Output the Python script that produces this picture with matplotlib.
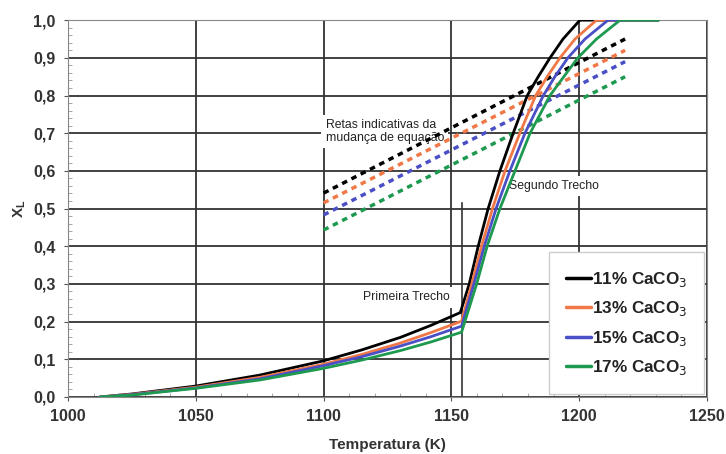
import numpy as np
import matplotlib.pyplot as plt
from matplotlib.ticker import MultipleLocator, FuncFormatter

plt.rcParams['font.family'] = ['Liberation Sans', 'DejaVu Sans']

# curvas X_L x T
labels = ['11% CaCO$_3$', '13% CaCO$_3$', '15% CaCO$_3$', '17% CaCO$_3$']
colors = ['#000000', '#f07848', '#4a4fc6', '#1e9a50']

t_11 = [1012.5, 1025, 1050, 1075, 1100, 1115, 1130, 1142, 1153.5,
        1157, 1160.5, 1164.4, 1169, 1174.2, 1179.7, 1184, 1188.6, 1193.7, 1200.3, 1231]
x_11 = [0.0, 0.008, 0.029, 0.058, 0.096, 0.125, 0.158, 0.190, 0.224,
        0.30, 0.40, 0.50, 0.60, 0.70, 0.80, 0.85, 0.90, 0.95, 1.0, 1.0]
t_13 = [1012.5, 1025, 1050, 1075, 1100, 1115, 1130, 1142, 1154,
        1158, 1161.8, 1166.1, 1171, 1176.8, 1183, 1187.5, 1192.5, 1198.4, 1206.8, 1231]
x_13 = [0.0, 0.007, 0.026, 0.052, 0.087, 0.113, 0.143, 0.171, 0.201,
        0.30, 0.40, 0.50, 0.60, 0.70, 0.80, 0.85, 0.90, 0.95, 1.0, 1.0]
t_15 = [1012.5, 1025, 1050, 1075, 1100, 1115, 1130, 1142, 1154,
        1158.8, 1162.9, 1167.5, 1172.9, 1178.8, 1186, 1190.5, 1195.6, 1202.3, 1211.3, 1231]
x_15 = [0.0, 0.006, 0.024, 0.048, 0.083, 0.107, 0.135, 0.160, 0.188,
        0.30, 0.40, 0.50, 0.60, 0.70, 0.80, 0.85, 0.90, 0.95, 1.0, 1.0]
t_17 = [1012.5, 1025, 1050, 1075, 1100, 1115, 1130, 1142, 1154,
        1159.9, 1164, 1169, 1174.9, 1180.8, 1188.6, 1194, 1199.5, 1206.8, 1216, 1231]
x_17 = [0.0, 0.005, 0.023, 0.045, 0.076, 0.098, 0.123, 0.146, 0.172,
        0.30, 0.40, 0.50, 0.60, 0.70, 0.80, 0.85, 0.90, 0.95, 1.0, 1.0]
temps = [t_11, t_13, t_15, t_17]
xls = [x_11, x_13, x_15, x_17]

# retas indicativas da mudanca de equacao
t_reta = [1100, 1218]
x_reta = [[0.541, 0.950], [0.515, 0.920], [0.483, 0.890], [0.443, 0.850]]

fig = plt.figure(figsize=(7.26, 4.54), dpi=100)
ax = fig.add_axes([0.0937, 0.1256, 0.880, 0.830])

for tr, c in zip(x_reta, colors):
    ax.plot(t_reta, tr, color=c, lw=2.5, dashes=(1.6, 1.4), zorder=3)

for t, xl, c, lab in zip(temps, xls, colors, labels):
    ax.plot(t, xl, color=c, lw=2.0, label=lab, zorder=4,
            solid_joinstyle='round', solid_capstyle='round')

# linha vertical em ~1154 K
ax.plot([1154, 1154], [0, 0.515], color='#333333', lw=1.2, zorder=2)

ax.set_xlim(1000, 1250)
ax.set_ylim(0, 1.0)
ax.xaxis.set_major_locator(MultipleLocator(50))
ax.xaxis.set_minor_locator(MultipleLocator(10))
ax.yaxis.set_major_locator(MultipleLocator(0.1))
ax.yaxis.set_minor_locator(MultipleLocator(0.02))
ax.yaxis.set_major_formatter(FuncFormatter(lambda v, p: ('%.1f' % v).replace('.', ',')))
ax.grid(True, which='major', color='#333333', lw=1.3, zorder=1)
ax.set_axisbelow(True)
ax.tick_params(which='major', direction='out', length=3, color='#555555',
               labelsize=11.5, labelcolor='#333333', pad=6)
ax.tick_params(which='minor', direction='in', length=3, color='#999999')
for lab in ax.get_xticklabels() + ax.get_yticklabels():
    lab.set_fontweight('bold')
for s in ['left', 'bottom', 'right', 'top']:
    ax.spines[s].set_color('#888888')

ax.set_xlabel('Temperatura (K)', fontsize=11, fontweight='bold', color='#333333', labelpad=10)
ax.set_ylabel(r'X$_\mathregular{L}$', fontsize=11, fontweight='bold', color='#333333', labelpad=4)

box = dict(facecolor='white', edgecolor='none', pad=3)
ax.text(1100.8, 0.705, 'Retas indicativas da\nmudança de equação', fontsize=8.8,
        color='#222222', va='center', ha='left', bbox=box, zorder=2.5, linespacing=1.1)
ax.text(1172.5, 0.56, 'Segundo Trecho', fontsize=8.8, color='#222222',
        va='center', ha='left', bbox=box, zorder=2.5)
ax.text(1115.5, 0.264, 'Primeira Trecho', fontsize=8.8, color='#222222',
        va='center', ha='left', bbox=box, zorder=2.5)

leg = ax.legend(loc='lower right', fontsize=12.3, handlelength=1.45, handletextpad=0.05,
                labelspacing=0.62, borderpad=1.0, borderaxespad=0.15, fancybox=False,
                framealpha=1, edgecolor='#cccccc')
for txt in leg.get_texts():
    txt.set_fontweight('bold')
    txt.set_color('#222222')
for ln in leg.get_lines():
    ln.set_linewidth(2.5)

fig.savefig('out.png', dpi=100)
